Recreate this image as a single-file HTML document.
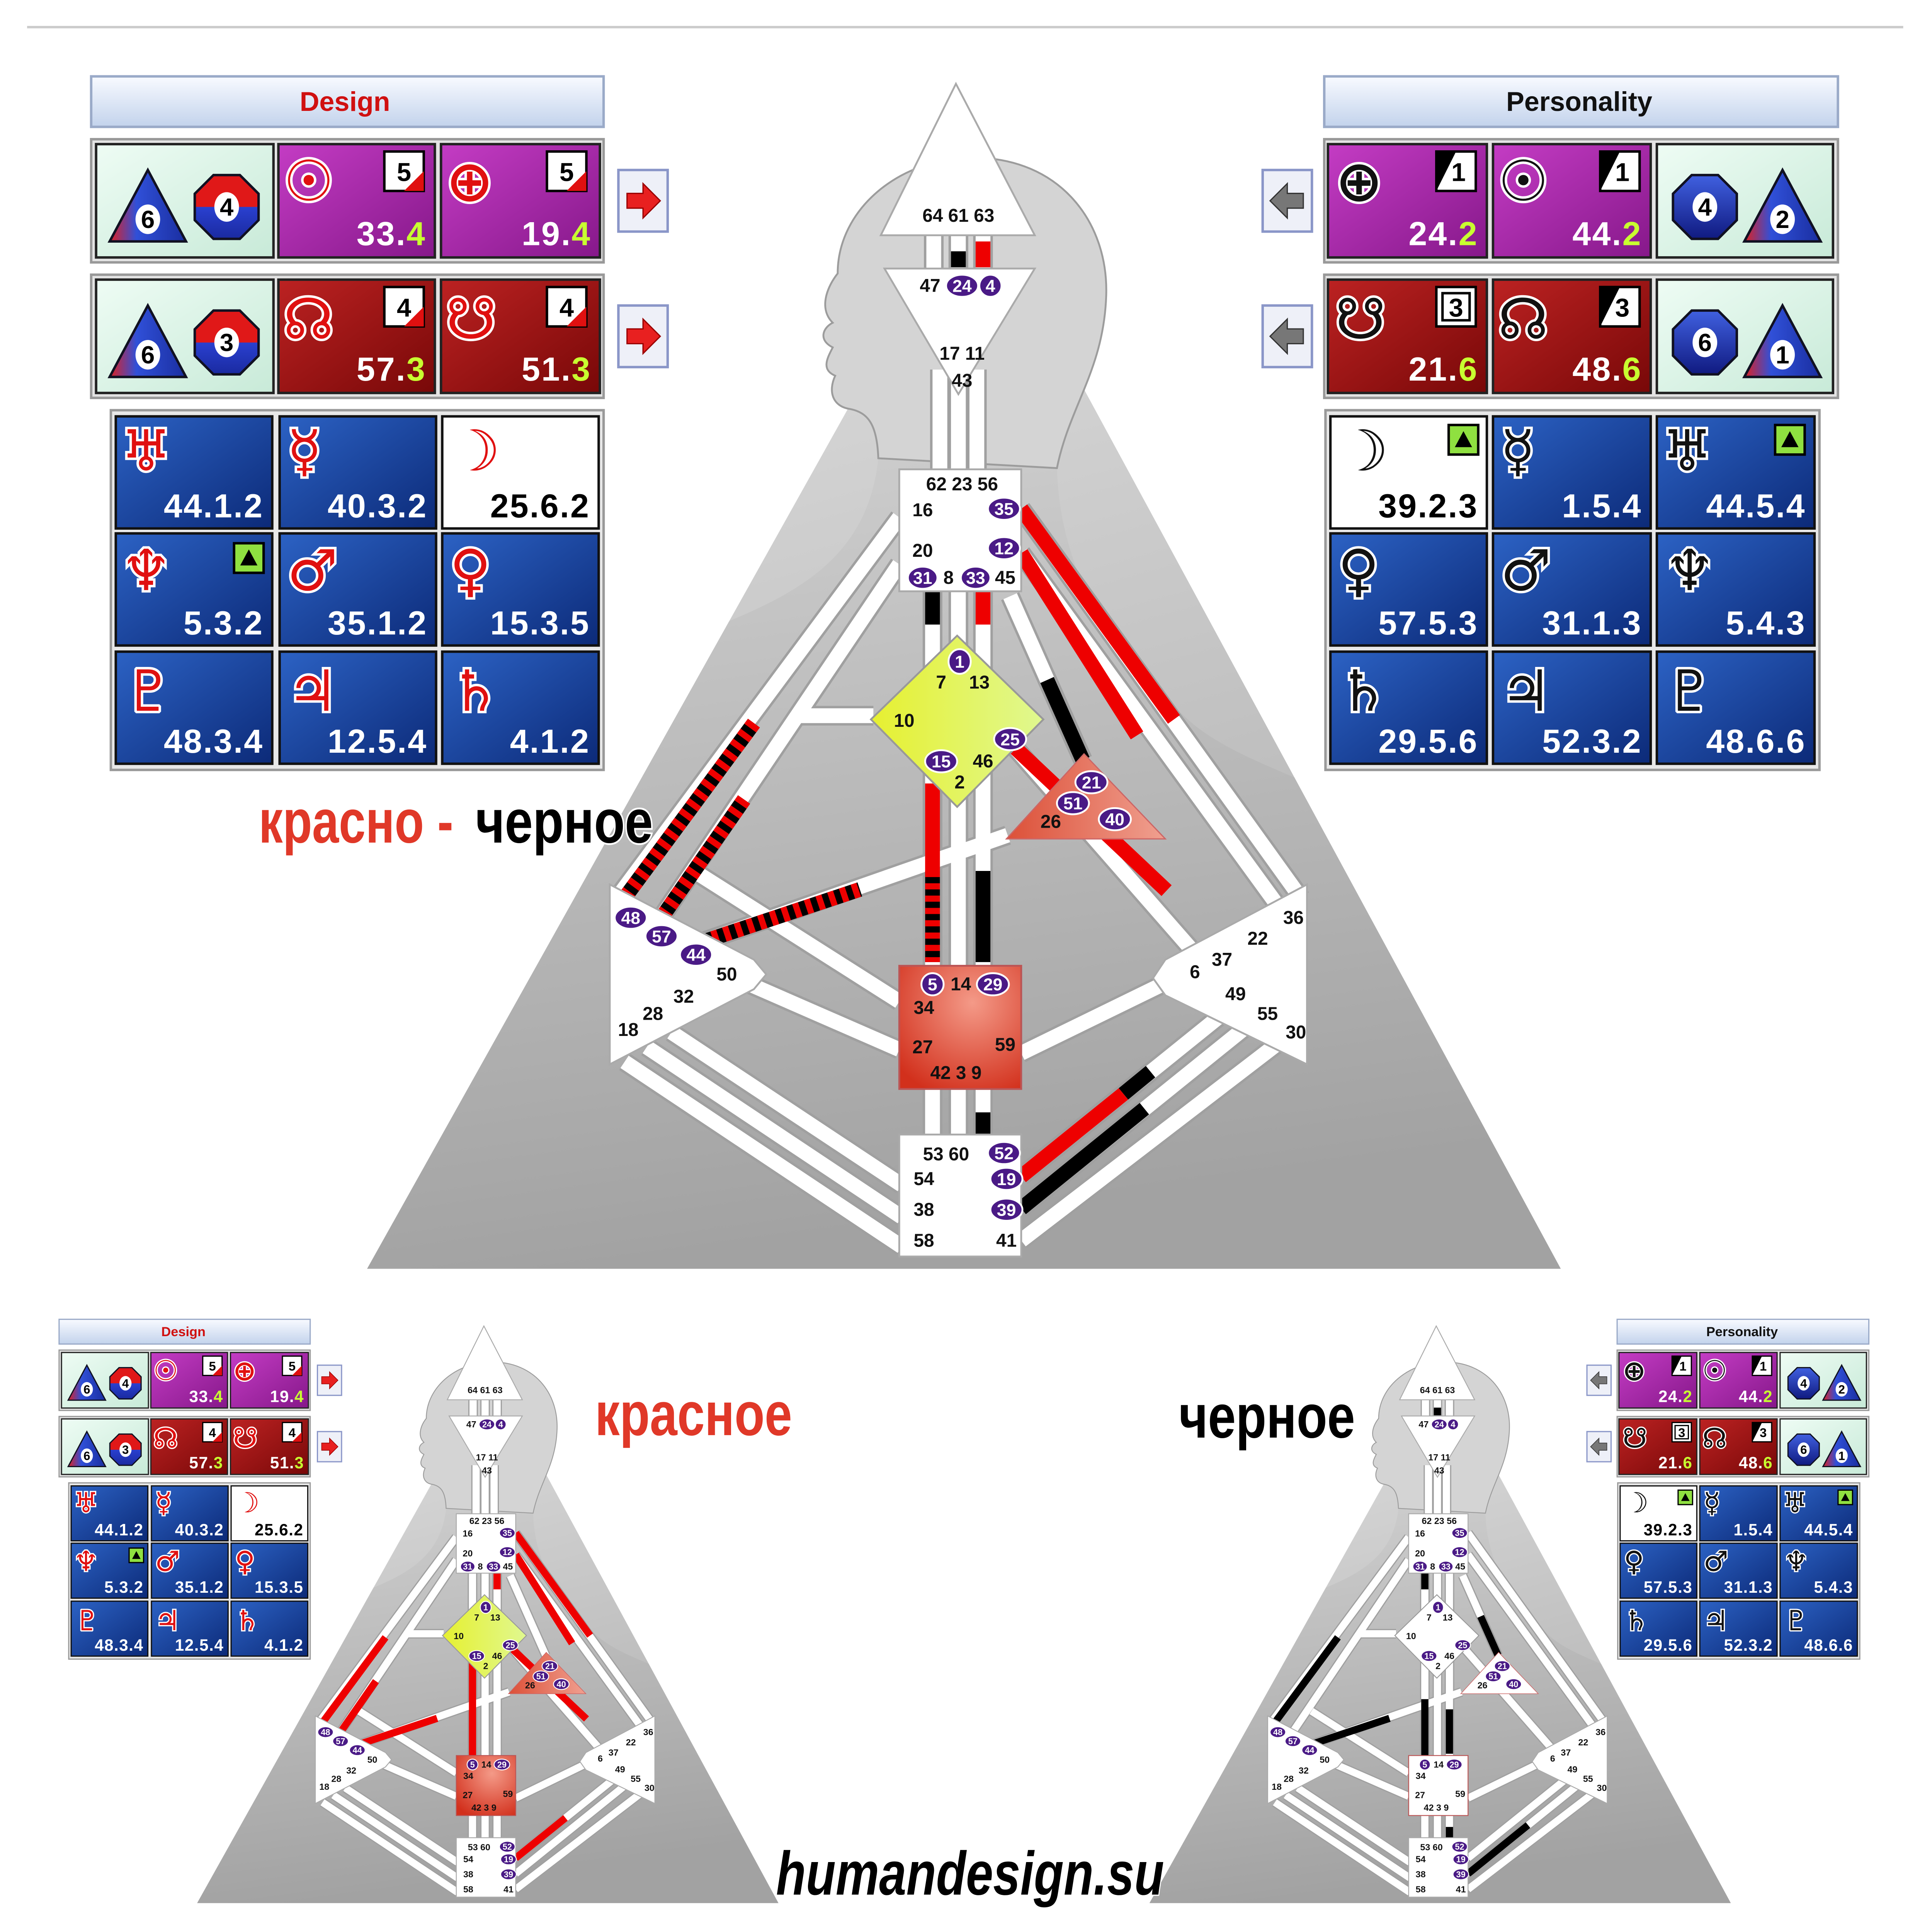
<!DOCTYPE html>
<html><head><meta charset="utf-8">
<style>
html,body{margin:0;padding:0;background:#fff;overflow:hidden;width:5120px;height:5120px}
svg{display:block}
.g{font-family:"DejaVu Sans",sans-serif;font-size:46px;font-weight:bold;paint-order:stroke;stroke:#fff;stroke-width:4px}
.gd{fill:#e01010}.gp{fill:#111}
.n{font-family:"Liberation Sans",sans-serif;font-weight:bold;font-size:27px;fill:#fff;text-anchor:end;letter-spacing:1px}
.nb{font-family:"Liberation Sans",sans-serif;font-weight:bold;font-size:27px;fill:#000;text-anchor:end;letter-spacing:1px}
.ln{font-family:"Liberation Sans",sans-serif;font-weight:bold;font-size:21px;fill:#000;text-anchor:middle}
.ic{font-family:"Liberation Sans",sans-serif;font-weight:bold;font-size:20px;fill:#000;text-anchor:middle}
.gl{font-family:"Liberation Sans",sans-serif;font-weight:bold;font-size:15px;fill:#111;text-anchor:middle}
.ov{font-family:"Liberation Sans",sans-serif;font-weight:bold;font-size:14px;fill:#fff;text-anchor:middle}
.big{font-family:"Liberation Sans Narrow","Liberation Sans",sans-serif;font-weight:bold;font-size:50px;paint-order:stroke;stroke:#fff;stroke-width:3px}
</style></head><body>
<svg width="5120" height="5120" viewBox="0 0 1606 1606" xmlns="http://www.w3.org/2000/svg" xmlns:xlink="http://www.w3.org/1999/xlink">
<defs>
<linearGradient id="hdr" x1="0" y1="0" x2="0" y2="1"><stop offset="0" stop-color="#f8faff"/><stop offset="1" stop-color="#c3d3ec"/></linearGradient>
<linearGradient id="pur" x1="0" y1="0" x2="1" y2="1"><stop offset="0" stop-color="#c43cc4"/><stop offset="1" stop-color="#86188a"/></linearGradient>
<linearGradient id="red" x1="0" y1="0" x2="1" y2="1"><stop offset="0" stop-color="#bc2222"/><stop offset="1" stop-color="#780808"/></linearGradient>
<linearGradient id="blu" x1="0" y1="0" x2="1" y2="1"><stop offset="0" stop-color="#2c62c4"/><stop offset="1" stop-color="#0c2a78"/></linearGradient>
<linearGradient id="grn" x1="0" y1="0" x2="1" y2="1"><stop offset="0" stop-color="#eefcf4"/><stop offset="1" stop-color="#c8ead8"/></linearGradient>
<linearGradient id="bg" x1="0" y1="0" x2="0.3" y2="1"><stop offset="0" stop-color="#e2e2e2"/><stop offset="1" stop-color="#b0b0b0"/></linearGradient>
<linearGradient id="body" x1="0" y1="0" x2="0.2" y2="1"><stop offset="0" stop-color="#cfcfcf"/><stop offset="1" stop-color="#a2a2a2"/></linearGradient>
<radialGradient id="sac" cx="0.6" cy="0.3" r="0.8"><stop offset="0" stop-color="#f49a88"/><stop offset="1" stop-color="#d2301c"/></radialGradient>
<linearGradient id="hrt" x1="0" y1="0" x2="1" y2="0"><stop offset="0" stop-color="#dc5038"/><stop offset="1" stop-color="#f0a090"/></linearGradient>
<linearGradient id="gc" x1="0" y1="0" x2="1" y2="0"><stop offset="0" stop-color="#e6f030"/><stop offset="1" stop-color="#e0f890"/></linearGradient>
<linearGradient id="trig" x1="0" y1="0" x2="1" y2="0"><stop offset="0" stop-color="#e02020"/><stop offset="0.35" stop-color="#3050d8"/><stop offset="1" stop-color="#1a2ea0"/></linearGradient>
<linearGradient id="octg" x1="0" y1="0" x2="0" y2="1"><stop offset="0" stop-color="#e01818"/><stop offset="0.5" stop-color="#e01818"/><stop offset="0.5" stop-color="#2a40d0"/><stop offset="1" stop-color="#1a2aa0"/></linearGradient>
<linearGradient id="octb" x1="0" y1="0" x2="0" y2="1"><stop offset="0" stop-color="#4060e0"/><stop offset="1" stop-color="#101a80"/></linearGradient>
<clipPath id="triclip"><polygon points="298,1030 1267,1030 790,150"/></clipPath>

<g id="tri"><polygon points="0,-30 -31,28 31,28" fill="url(#trig)" stroke="#112" stroke-width="2"/><ellipse cx="0" cy="10" rx="10" ry="12" fill="#fff"/></g>
<g id="oct"><polygon points="10.7,-25.9 25.9,-10.7 25.9,10.7 10.7,25.9 -10.7,25.9 -25.9,10.7 -25.9,-10.7 -10.7,-25.9" fill="url(#octg)" stroke="#112" stroke-width="2"/><ellipse cx="0" cy="0" rx="10" ry="12" fill="#fff"/></g>
<g id="octB"><polygon points="10.7,-25.9 25.9,-10.7 25.9,10.7 10.7,25.9 -10.7,25.9 -25.9,10.7 -25.9,-10.7 -10.7,-25.9" fill="url(#octb)" stroke="#112" stroke-width="2"/><ellipse cx="0" cy="0" rx="10" ry="12" fill="#fff"/></g>
<g id="mk"><rect x="0" y="0" width="24" height="24" fill="#8fe040" stroke="#000" stroke-width="2"/><polygon points="12,5 19,18 5,18" fill="#000"/></g>

<g id="dp">
<rect x="74" y="62" width="416" height="41" fill="url(#hdr)" stroke="#9aaac8" stroke-width="2"/>
<text x="280" y="90" text-anchor="middle" font-family="Liberation Sans,sans-serif" font-weight="bold" font-size="22" fill="#d01010">Design</text>
<rect x="74" y="113" width="416" height="100" fill="#e4e4e4" stroke="#999" stroke-width="2"/>
<rect x="78" y="117" width="144" height="92" fill="url(#grn)" stroke="#222" stroke-width="2"/>
<use href="#tri" x="120" y="168"/><text class="ic" x="120" y="185">6</text>
<use href="#oct" x="184" y="168"/><text class="ic" x="184" y="175">4</text>
<rect x="226" y="117" width="127" height="92" fill="url(#pur)" stroke="#222" stroke-width="2"/>
<text class="g gd" x="230" y="163">☉</text>
<rect x="312" y="123" width="32" height="32" fill="#fff" stroke="#000" stroke-width="2"/><polygon points="344,139 344,155 328,155" fill="#e01010"/><text class="ln" x="328" y="147">5</text>
<text class="n" x="346" y="199">33.<tspan fill="#c8ff30">4</tspan></text>
<rect x="358" y="117" width="129" height="92" fill="url(#pur)" stroke="#222" stroke-width="2"/>
<text class="g gd" x="362" y="163">⊕</text>
<rect x="444" y="123" width="32" height="32" fill="#fff" stroke="#000" stroke-width="2"/><polygon points="476,139 476,155 460,155" fill="#e01010"/><text class="ln" x="460" y="147">5</text>
<text class="n" x="480" y="199">19.<tspan fill="#c8ff30">4</tspan></text>

<rect x="74" y="223" width="416" height="100" fill="#e4e4e4" stroke="#999" stroke-width="2"/>
<rect x="78" y="227" width="144" height="92" fill="url(#grn)" stroke="#222" stroke-width="2"/>
<use href="#tri" x="120" y="278"/><text class="ic" x="120" y="295">6</text>
<use href="#oct" x="184" y="278"/><text class="ic" x="184" y="285">3</text>
<rect x="226" y="227" width="127" height="92" fill="url(#red)" stroke="#222" stroke-width="2"/>
<text class="g gd" x="230" y="275">☊</text>
<rect x="312" y="233" width="32" height="32" fill="#fff" stroke="#000" stroke-width="2"/><polygon points="344,249 344,265 328,265" fill="#e01010"/><text class="ln" x="328" y="257">4</text>
<text class="n" x="346" y="309">57.<tspan fill="#c8ff30">3</tspan></text>
<rect x="358" y="227" width="129" height="92" fill="url(#red)" stroke="#222" stroke-width="2"/>
<text class="g gd" x="362" y="275">☋</text>
<rect x="444" y="233" width="32" height="32" fill="#fff" stroke="#000" stroke-width="2"/><polygon points="476,249 476,265 460,265" fill="#e01010"/><text class="ln" x="460" y="257">4</text>
<text class="n" x="480" y="309">51.<tspan fill="#c8ff30">3</tspan></text>

<rect x="90" y="333" width="400" height="292" fill="#e8e8e8" stroke="#999" stroke-width="2"/>
<rect x="94" y="338" width="127" height="91" fill="url(#blu)" stroke="#111" stroke-width="2"/><text class="g gd" x="98" y="382">♅</text><text class="n" x="214" y="420">44.1.2</text>
<rect x="227" y="338" width="127" height="91" fill="url(#blu)" stroke="#111" stroke-width="2"/><text class="g gd" x="233" y="382">☿</text><text class="n" x="347" y="420">40.3.2</text>
<rect x="359" y="338" width="127" height="91" fill="#fff" stroke="#111" stroke-width="2"/><text class="g gd" x="365" y="382">☽</text><text class="nb" x="479" y="420">25.6.2</text>
<rect x="94" y="433" width="127" height="91" fill="url(#blu)" stroke="#111" stroke-width="2"/><text class="g gd" x="98" y="479">♆</text><use href="#mk" x="190" y="441"/><text class="n" x="214" y="515">5.3.2</text>
<rect x="227" y="433" width="127" height="91" fill="url(#blu)" stroke="#111" stroke-width="2"/><text class="g gd" x="233" y="479">♂</text><text class="n" x="347" y="515">35.1.2</text>
<rect x="359" y="433" width="127" height="91" fill="url(#blu)" stroke="#111" stroke-width="2"/><text class="g gd" x="365" y="479">♀</text><text class="n" x="479" y="515">15.3.5</text>
<rect x="94" y="529" width="127" height="91" fill="url(#blu)" stroke="#111" stroke-width="2"/><text class="g gd" x="100" y="577">♇</text><text class="n" x="214" y="611">48.3.4</text>
<rect x="227" y="529" width="127" height="91" fill="url(#blu)" stroke="#111" stroke-width="2"/><text class="g gd" x="233" y="577">♃</text><text class="n" x="347" y="611">12.5.4</text>
<rect x="359" y="529" width="127" height="91" fill="url(#blu)" stroke="#111" stroke-width="2"/><text class="g gd" x="365" y="577">♄</text><text class="n" x="479" y="611">4.1.2</text>

<rect x="502" y="138" width="40" height="50" fill="#eef0f8" stroke="#8a96c8" stroke-width="2"/>
<polygon points="509,157 522,157 522,149 536,163 522,177 522,169 509,169" fill="#e82020" stroke="#900" stroke-width="1"/>
<rect x="502" y="248" width="40" height="50" fill="#eef0f8" stroke="#8a96c8" stroke-width="2"/>
<polygon points="509,267 522,267 522,259 536,273 522,287 522,279 509,279" fill="#e82020" stroke="#900" stroke-width="1"/>
</g>

<g id="pp">
<rect x="1075" y="62" width="417" height="41" fill="url(#hdr)" stroke="#9aaac8" stroke-width="2"/>
<text x="1282" y="90" text-anchor="middle" font-family="Liberation Sans,sans-serif" font-weight="bold" font-size="22" fill="#111">Personality</text>
<rect x="1075" y="113" width="417" height="100" fill="#e4e4e4" stroke="#999" stroke-width="2"/>
<rect x="1078" y="117" width="129" height="92" fill="url(#pur)" stroke="#222" stroke-width="2"/>
<text class="g gp" x="1084" y="163">⊕</text>
<rect x="1166" y="123" width="32" height="32" fill="#fff" stroke="#000" stroke-width="2"/><polygon points="1166,123 1182,123 1166,155" fill="#000"/><text class="ln" x="1184" y="147">1</text>
<text class="n" x="1200" y="199">24.<tspan fill="#c8ff30">2</tspan></text>
<rect x="1212" y="117" width="128" height="92" fill="url(#pur)" stroke="#222" stroke-width="2"/>
<text class="g gp" x="1216" y="163">☉</text>
<rect x="1299" y="123" width="32" height="32" fill="#fff" stroke="#000" stroke-width="2"/><polygon points="1299,123 1315,123 1299,155" fill="#000"/><text class="ln" x="1317" y="147">1</text>
<text class="n" x="1333" y="199">44.<tspan fill="#c8ff30">2</tspan></text>
<rect x="1345" y="117" width="143" height="92" fill="url(#grn)" stroke="#222" stroke-width="2"/>
<use href="#octB" x="1384" y="168"/><text class="ic" x="1384" y="175">4</text>
<use href="#tri" x="1447" y="168"/><text class="ic" x="1447" y="185">2</text>

<rect x="1075" y="223" width="417" height="100" fill="#e4e4e4" stroke="#999" stroke-width="2"/>
<rect x="1078" y="227" width="129" height="92" fill="url(#red)" stroke="#222" stroke-width="2"/>
<text class="g gp" x="1084" y="275">☋</text>
<rect x="1166" y="233" width="32" height="32" fill="#fff" stroke="#000" stroke-width="2"/><rect x="1171" y="238" width="22" height="22" fill="none" stroke="#000" stroke-width="2"/><text class="ln" x="1182" y="257">3</text>
<text class="n" x="1200" y="309">21.<tspan fill="#c8ff30">6</tspan></text>
<rect x="1212" y="227" width="128" height="92" fill="url(#red)" stroke="#222" stroke-width="2"/>
<text class="g gp" x="1216" y="275">☊</text>
<rect x="1299" y="233" width="32" height="32" fill="#fff" stroke="#000" stroke-width="2"/><polygon points="1299,233 1315,233 1299,265" fill="#000"/><text class="ln" x="1317" y="257">3</text>
<text class="n" x="1333" y="309">48.<tspan fill="#c8ff30">6</tspan></text>
<rect x="1345" y="227" width="143" height="92" fill="url(#grn)" stroke="#222" stroke-width="2"/>
<use href="#octB" x="1384" y="278"/><text class="ic" x="1384" y="285">6</text>
<use href="#tri" x="1447" y="278"/><text class="ic" x="1447" y="295">1</text>

<rect x="1076" y="333" width="401" height="292" fill="#e8e8e8" stroke="#999" stroke-width="2"/>
<rect x="1080" y="338" width="127" height="91" fill="#fff" stroke="#111" stroke-width="2"/><text class="g gp" x="1086" y="382">☽</text><use href="#mk" x="1176" y="345"/><text class="nb" x="1200" y="420">39.2.3</text>
<rect x="1212" y="338" width="128" height="91" fill="url(#blu)" stroke="#111" stroke-width="2"/><text class="g gp" x="1218" y="382">☿</text><text class="n" x="1333" y="420">1.5.4</text>
<rect x="1345" y="338" width="128" height="91" fill="url(#blu)" stroke="#111" stroke-width="2"/><text class="g gp" x="1349" y="382">♅</text><use href="#mk" x="1441" y="345"/><text class="n" x="1466" y="420">44.5.4</text>
<rect x="1080" y="433" width="127" height="91" fill="url(#blu)" stroke="#111" stroke-width="2"/><text class="g gp" x="1086" y="479">♀</text><text class="n" x="1200" y="515">57.5.3</text>
<rect x="1212" y="433" width="128" height="91" fill="url(#blu)" stroke="#111" stroke-width="2"/><text class="g gp" x="1218" y="479">♂</text><text class="n" x="1333" y="515">31.1.3</text>
<rect x="1345" y="433" width="128" height="91" fill="url(#blu)" stroke="#111" stroke-width="2"/><text class="g gp" x="1351" y="479">♆</text><text class="n" x="1466" y="515">5.4.3</text>
<rect x="1080" y="529" width="127" height="91" fill="url(#blu)" stroke="#111" stroke-width="2"/><text class="g gp" x="1086" y="577">♄</text><text class="n" x="1200" y="611">29.5.6</text>
<rect x="1212" y="529" width="128" height="91" fill="url(#blu)" stroke="#111" stroke-width="2"/><text class="g gp" x="1218" y="577">♃</text><text class="n" x="1333" y="611">52.3.2</text>
<rect x="1345" y="529" width="128" height="91" fill="url(#blu)" stroke="#111" stroke-width="2"/><text class="g gp" x="1351" y="577">♇</text><text class="n" x="1466" y="611">48.6.6</text>

<rect x="1025" y="138" width="40" height="50" fill="#eef0f8" stroke="#8a96c8" stroke-width="2"/>
<polygon points="1058,157 1045,157 1045,149 1031,163 1045,177 1045,169 1058,169" fill="#777" stroke="#333" stroke-width="1"/>
<rect x="1025" y="248" width="40" height="50" fill="#eef0f8" stroke="#8a96c8" stroke-width="2"/>
<polygon points="1058,267 1045,267 1045,259 1031,273 1045,287 1045,279 1058,279" fill="#777" stroke="#333" stroke-width="1"/>
</g>

<g id="chl" fill="none" stroke-linecap="butt">
<path d="M758 190V222M778 190V222M798 190V222"/>
<path d="M763 300V385M778 300V385M793 300V385"/>
<path d="M757 478V560M778 478V525M798 478V560"/>
<path d="M757 600V786M778 640V786M798 600V786"/>
<path d="M757 882V924M778 882V924M798 882V924"/>
<path d="M730 420L503 726M730 458L534 749M709 581H647"/>
<path d="M569 765L818 678M568 710L730 813M604 797L730 852"/>
<path d="M507 862L732 1012M525 850L732 988M545 838L732 962"/>
<path d="M829 413L1056 729M829 449L1040 739M820 484L879 617M824 607L970 774M829 855L954 794"/>
<path d="M829 955L1005 813M829 981L1021 826M829 1007L1040 845"/>
</g>
<g id="base">
<polygon points="298,1030 1267,1030 790,150" fill="url(#bg)"/>
<path clip-path="url(#triclip)" d="M713,372 C705,450 650,480 590,505 C520,535 420,580 380,640 L298,1030 L1267,1030 L1200,720 C1120,640 1010,630 960,580 C890,520 860,450 858,380 Z" fill="url(#body)"/>
<path d="M713,372 C712,345 705,335 690,332 C676,330 672,318 678,305 C666,300 672,290 676,282 C664,276 668,266 676,262 C664,250 672,232 680,222 C680,170 730,128 790,128 C860,128 900,180 898,240 C896,300 868,330 858,380 Z" fill="#d4d4d4" stroke="#9c9c9c" stroke-width="1.5"/>
<use href="#chl" stroke="#a0a0a0" stroke-width="16"/>
<use href="#chl" stroke="#ffffff" stroke-width="12"/>
</g>

<g id="ctr">
<polygon points="776,68 715,191 840,191" fill="#fff" stroke="#aaa" stroke-width="1.5"/>
<polygon points="718,218 840,218 778,320" fill="#fff" stroke="#aaa" stroke-width="1.5"/>
<rect x="730" y="381" width="99" height="99" fill="#fff" stroke="#aaa" stroke-width="1.5"/>
<polygon points="777,516 847,584 777,655 707,584" style="fill:var(--g,url(#gc))" stroke="#999" stroke-width="1.5"/>
<polygon points="880,612 946,681 817,681" style="fill:var(--h,url(#hrt))" stroke="#c66" stroke-width="1"/>
<polygon points="495,718 612,779 622,791 612,803 495,864" fill="#fff" stroke="#aaa" stroke-width="1.5"/>
<polygon points="1061,718 946,779 936,794 946,808 1061,864" fill="#fff" stroke="#aaa" stroke-width="1.5"/>
<rect x="730" y="784" width="99" height="100" style="fill:var(--s,url(#sac))" stroke="#b55" stroke-width="1.5"/>
<rect x="730" y="921" width="99" height="99" fill="#fff" stroke="#aaa" stroke-width="1.5"/>
<g fill="#4a1a86" stroke="#fff" stroke-width="1.5">
<ellipse cx="781" cy="232" rx="13" ry="9"/><ellipse cx="804" cy="232" rx="9" ry="9"/>
<ellipse cx="815" cy="413" rx="13" ry="9"/><ellipse cx="815" cy="445" rx="13" ry="9"/>
<ellipse cx="749" cy="469" rx="12" ry="9"/><ellipse cx="792" cy="469" rx="12" ry="9"/>
<ellipse cx="779" cy="537" rx="9" ry="10"/><ellipse cx="820" cy="600" rx="13" ry="9"/><ellipse cx="764" cy="618" rx="13" ry="9"/>
<ellipse cx="886" cy="635" rx="13" ry="9"/><ellipse cx="871" cy="652" rx="13" ry="9"/><ellipse cx="905" cy="665" rx="13" ry="9"/>
<ellipse cx="512" cy="745" rx="13" ry="9"/><ellipse cx="537" cy="760" rx="13" ry="9"/><ellipse cx="565" cy="775" rx="13" ry="9"/>
<ellipse cx="757" cy="799" rx="9" ry="9"/><ellipse cx="806" cy="799" rx="13" ry="9"/>
<ellipse cx="815" cy="936" rx="13" ry="9"/><ellipse cx="817" cy="957" rx="13" ry="9"/><ellipse cx="817" cy="982" rx="13" ry="9"/>
</g>
<text class="ov" x="781" y="237">24</text><text class="ov" x="804" y="237">4</text>
<text class="ov" x="815" y="418">35</text><text class="ov" x="815" y="450">12</text>
<text class="ov" x="749" y="474">31</text><text class="ov" x="792" y="474">33</text>
<text class="ov" x="779" y="542">1</text><text class="ov" x="820" y="605">25</text><text class="ov" x="764" y="623">15</text>
<text class="ov" x="886" y="640">21</text><text class="ov" x="871" y="657">51</text><text class="ov" x="905" y="670">40</text>
<text class="ov" x="512" y="750">48</text><text class="ov" x="537" y="765">57</text><text class="ov" x="565" y="780">44</text>
<text class="ov" x="757" y="804">5</text><text class="ov" x="806" y="804">29</text>
<text class="ov" x="815" y="941">52</text><text class="ov" x="817" y="962">19</text><text class="ov" x="817" y="987">39</text>
<text class="gl" x="778" y="180">64 61 63</text>
<text class="gl" x="755" y="237">47</text>
<text class="gl" x="781" y="292">17 11</text><text class="gl" x="781" y="314">43</text>
<text class="gl" x="781" y="398">62  23  56</text><text class="gl" x="749" y="419">16</text><text class="gl" x="749" y="452">20</text>
<text class="gl" x="770" y="474">8</text><text class="gl" x="816" y="474">45</text>
<text class="gl" x="764" y="559">7</text><text class="gl" x="795" y="559">13</text><text class="gl" x="734" y="590">10</text>
<text class="gl" x="798" y="623">46</text><text class="gl" x="779" y="640">2</text>
<text class="gl" x="853" y="672">26</text>
<text class="gl" x="590" y="796">50</text><text class="gl" x="555" y="814">32</text><text class="gl" x="530" y="828">28</text><text class="gl" x="510" y="841">18</text>
<text class="gl" x="1050" y="750">36</text><text class="gl" x="1021" y="767">22</text><text class="gl" x="992" y="784">37</text><text class="gl" x="970" y="794">6</text>
<text class="gl" x="1003" y="812">49</text><text class="gl" x="1029" y="828">55</text><text class="gl" x="1052" y="843">30</text>
<text class="gl" x="780" y="804">14</text><text class="gl" x="750" y="823">34</text><text class="gl" x="749" y="855">27</text><text class="gl" x="816" y="853">59</text>
<text class="gl" x="776" y="876">42  3  9</text>
<text class="gl" x="768" y="942">53  60</text><text class="gl" x="750" y="962">54</text><text class="gl" x="750" y="987">38</text>
<text class="gl" x="750" y="1012">58</text><text class="gl" x="817" y="1012">41</text>
</g>
</defs>

<rect width="1606" height="1606" fill="#fff"/>
<line x1="22" y1="22" x2="1545" y2="22" stroke="#ccc" stroke-width="2"/>

<g>
<use href="#base"/>
<g fill="none" stroke-width="12">
<path d="M798 196V217" stroke="#e00"/><path d="M778 204V217" stroke="#000"/>
<path d="M757 478V507" stroke="#000"/><path d="M798 478V507" stroke="#e00"/>
<path d="M757 636V707" stroke="#e00"/>
<path d="M757 707V781" stroke="#000"/><path d="M757 707V781" stroke="#e00" stroke-dasharray="5 5"/>
<path d="M798 707V781" stroke="#000"/><path d="M798 903V921" stroke="#000"/>
<path d="M829 413L953 584" stroke="#e00"/><path d="M829 449L923 597" stroke="#e00"/>
<path d="M850 552L879 617" stroke="#000"/><path d="M824 607L947 723" stroke="#e00"/>
<path d="M612 587L507 729" stroke="#000"/><path d="M612 587L507 729" stroke="#e00" stroke-dasharray="5 5"/>
<path d="M604 649L537 745" stroke="#000"/><path d="M604 649L537 745" stroke="#e00" stroke-dasharray="5 5"/>
<path d="M569 765L698 722" stroke="#000"/><path d="M569 765L698 722" stroke="#e00" stroke-dasharray="5 5"/>
<path d="M829 955L912 888" stroke="#e00"/><path d="M912 888L934 870" stroke="#000"/>
<path d="M829 981L929 900" stroke="#000"/>
</g>
<use href="#ctr"/>
</g>
<use href="#dp"/>
<use href="#pp"/>

<text class="big" x="210" y="684" fill="#e03828" textLength="158" lengthAdjust="spacingAndGlyphs">красно -</text>
<text class="big" x="386" y="684" fill="#000" textLength="144" lengthAdjust="spacingAndGlyphs">черное</text>

<g transform="translate(14.9,1043.3) scale(0.487)">
<use href="#base"/>
<g fill="none" stroke-width="12" stroke="#e00">
<path d="M798 478V507"/><path d="M757 600V786"/>
<path d="M829 413L953 584"/><path d="M829 449L923 597"/><path d="M824 607L947 723"/>
<path d="M612 587L507 729"/><path d="M596 660L537 745"/><path d="M569 765L698 722"/>
<path d="M829 955L912 888"/>
</g>
<use href="#ctr"/>
</g>
<g transform="translate(11.7,1040.6) scale(0.49)"><use href="#dp"/></g>
<text class="big" x="483" y="1165" fill="#e03828" textLength="160" lengthAdjust="spacingAndGlyphs">красное</text>

<g transform="translate(788,1043.3) scale(0.487)">
<use href="#base"/>
<g fill="none" stroke-width="12" stroke="#000">
<path d="M778 204V217"/><path d="M757 478V507"/><path d="M757 690V786"/>
<path d="M798 707V781"/><path d="M798 903V921"/>
<path d="M850 552L879 617"/>
<path d="M612 587L507 729"/><path d="M569 765L698 722"/>
<path d="M829 981L929 900"/>
</g>
<use href="#ctr" style="--g:#fff;--h:#fff;--s:#fff"/>
</g>
<g transform="translate(786,1040.6) scale(0.49)"><use href="#pp"/></g>
<text class="big" x="957" y="1167" fill="#000" textLength="143" lengthAdjust="spacingAndGlyphs">черное</text>

<text x="630" y="1538" font-family="Liberation Sans,sans-serif" font-style="italic" font-weight="bold" font-size="50" fill="#000" stroke="#fff" stroke-width="2" paint-order="stroke" textLength="315" lengthAdjust="spacingAndGlyphs">humandesign.su</text>
</svg>
</body></html>
